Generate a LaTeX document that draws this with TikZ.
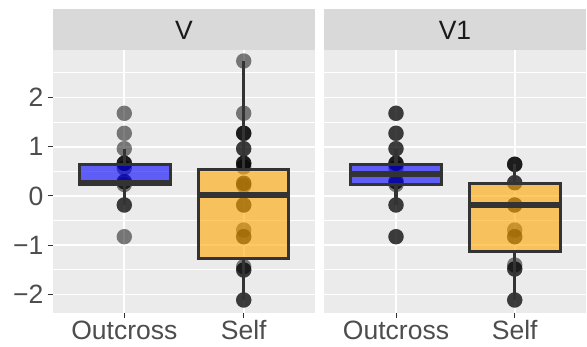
\documentclass[tikz,border=0pt]{standalone}
\usepackage{fontspec}
\setmainfont{Liberation Sans}
\definecolor{panelbg}{HTML}{EBEBEB}
\definecolor{stripbg}{HTML}{D9D9D9}
\definecolor{axtext}{HTML}{4D4D4D}
\definecolor{striptext}{HTML}{1A1A1A}
\definecolor{boxline}{HTML}{333333}
\definecolor{selfc}{HTML}{FFA500}
\tikzset{
  major/.style={white, line width=1.7pt},
  minor/.style={white, line width=0.8pt},
  pt/.style={fill=black, opacity=0.5},
  whisk/.style={boxline, line width=3.2pt},
  boxo/.style={fill=blue, fill opacity=0.6, draw=boxline, line width=3pt},
  boxs/.style={fill=selfc, fill opacity=0.6, draw=boxline, line width=3pt},
  med/.style={boxline, line width=6pt},
  tick/.style={boxline, line width=1pt},
  axlab/.style={text=axtext, inner sep=0pt, font=\fontsize{26.5}{31}\selectfont},
  striplab/.style={text=striptext, inner sep=0pt, font=\fontsize{26.5}{31}\selectfont}
}
\begin{document}
\begin{tikzpicture}[x=1pt,y=-1pt]
\useasboundingbox (0,0) rectangle (587,347);
\fill[white] (0,0) rectangle (587,347);
% panels and strips
\foreach \xa/\xb in {53/315, 324/586}{
  \fill[panelbg] (\xa,50) rectangle (\xb,313);
  \fill[stripbg] (\xa,9) rectangle (\xb,50);
  \foreach \v in {-1.5,-0.5,0.5,1.5,2.5}
    \draw[minor] (\xa,{196-49.25*\v}) -- (\xb,{196-49.25*\v});
  \foreach \v in {-2,-1,0,1,2}
    \draw[major] (\xa,{196-49.25*\v}) -- (\xb,{196-49.25*\v});
}
\foreach \x in {124.3,243.7,396,514.7}{
  \draw[major] (\x,50) -- (\x,313);
  \draw[tick] (\x,313) -- (\x,318.5);
}
% strip labels
\node[striplab] (sv) at (184,30) {V};
\node[striplab] (sv1) at (455,30) {V1};
% y axis
\foreach \v/\t in {2/2,1/1,0/0,-1/−1,-2/−2}{
  \draw[tick] (47.5,{196-49.25*\v}) -- (53,{196-49.25*\v});
  \node[axlab, anchor=east] at (43.5,{196-49.25*\v}) {\t};
}
% x labels
\foreach \x/\t in {124.3/Outcross,243.7/Self,396/Outcross,514.7/Self}
  \node[axlab, anchor=base] at (\x,340) {\t};
% points
\foreach \y in {113.3,133.3,148.7,163.3,163.3,163.3,168,181.7,181.7,184.5,205,205,236.7}
  \fill[pt] (124.3,\y) circle[radius=7.7pt];
\foreach \y in {113.3,113.3,133.3,133.3,148.7,148.7,163.3,163.3,163.3,168,181.7,181.7,184.5,205,205,236.7,236.7}
  \fill[pt] (396,\y) circle[radius=7.7pt];
\foreach \y in {61,113.3,133.3,133.3,133.3,148.7,148.7,163.3,163.3,163.3,167,183.3,183.3,185.5,205,205,230,236.7,236.7,266.7,270,270,300,300}
  \fill[pt] (243.7,\y) circle[radius=7.7pt];
\foreach \y in {164.3,164.3,164.3,182.7,182.7,205,205,230,236.7,236.7,265,269,269,300,300}
  \fill[pt] (514.7,\y) circle[radius=7.7pt];
% boxplots: left Outcross
\draw[whisk] (124.3,148.7) -- (124.3,164.3) (124.3,185) -- (124.3,205);
\draw[boxo] (79,164.3) rectangle (170,185);
\draw[med] (80.5,183) -- (168.5,183);
% left Self
\draw[whisk] (243.7,61) -- (243.7,169.3) (243.7,258.3) -- (243.7,300);
\draw[boxs] (198,169.3) rectangle (288,258.3);
\draw[med] (199.5,195) -- (286.5,195);
% right Outcross
\draw[whisk] (396,148.7) -- (396,164.3) (396,185) -- (396,205);
\draw[boxo] (350,164.3) rectangle (441,185);
\draw[med] (351.5,174.5) -- (439.5,174.5);
% right Self
\draw[whisk] (514.7,164.3) -- (514.7,183.3) (514.7,251.7) -- (514.7,300);
\draw[boxs] (469.3,183.3) rectangle (560,251.7);
\draw[med] (470.8,205) -- (558.5,205);
\end{tikzpicture}
\end{document}
